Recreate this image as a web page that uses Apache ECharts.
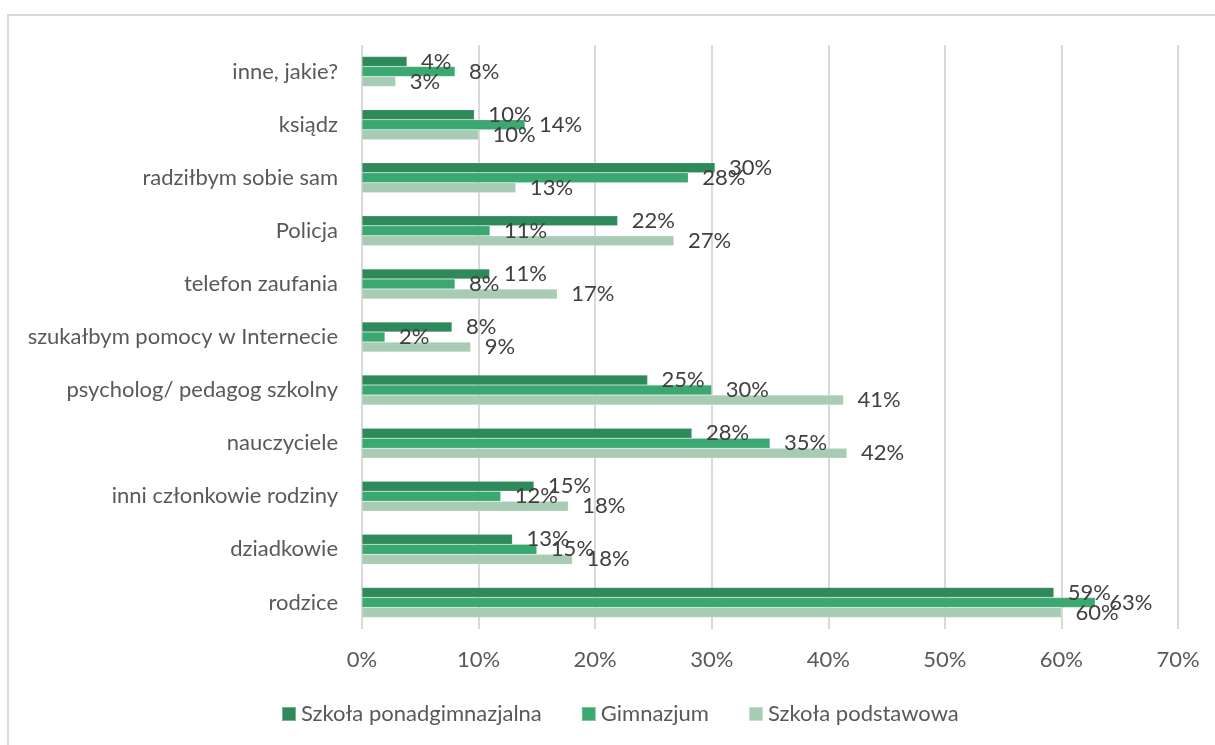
<!DOCTYPE html>
<html>
<head>
<meta charset="utf-8">
<script src="https://cdn.jsdelivr.net/npm/echarts@6/dist/echarts.min.js"></script>
<style>html,body{margin:0;padding:0;background:#fff;}#c{width:1215px;height:745px;}</style>
</head>
<body>
<div id="c"></div>
<script>
// categories from bottom to top
var categories = ['rodzice', 'dziadkowie', 'inni członkowie rodziny', 'nauczyciele', 'psycholog/ pedagog szkolny', 'szukałbym pomocy w Internecie', 'telefon zaufania', 'Policja', 'radziłbym sobie sam', 'ksiądz', 'inne, jakie?'];
var seriesNames = ['Szkoła ponadgimnazjalna', 'Gimnazjum', 'Szkoła podstawowa'];
var ponadgimnazjalna = [59.35, 12.9, 14.75, 28.3, 24.5, 7.72, 10.95, 21.93, 30.28, 9.64, 3.86];
var gimnazjum = [62.9, 15.0, 11.9, 35.0, 30.0, 1.97, 7.98, 10.98, 27.99, 13.98, 7.98];
var podstawowa = [60.0, 18.05, 17.7, 41.6, 41.3, 9.32, 16.75, 26.76, 13.2, 10.0, 2.89];
var xTicks = {min: 0, max: 70, interval: 10};
var colors = ['#2e8a5a', '#3aa870', '#a8ccb3'];

var FONT = 'Lato';
var FS = 22;
function mk(name, data, color) {
  return {
    name: name, type: 'bar', data: data, barWidth: 10, barGap: '0%',
    itemStyle: {color: color, borderColor: 'rgba(255,255,255,0.35)', borderWidth: 0.5},
    label: {show: true, position: 'right', distance: 14, color: '#404040', fontSize: FS, fontFamily: FONT,
      formatter: function (p) { return Math.round(p.value) + '%'; }},
    emphasis: {disabled: true}
  };
}
var chart = echarts.init(document.getElementById('c'));
chart.setOption({
  animation: false,
  graphic: [{type: 'rect', shape: {x: 8, y: 15, width: 1215, height: 745}, style: {fill: 'none', stroke: '#d9d9d9', lineWidth: 2}, silent: true, z: -1}],
  legend: {
    data: seriesNames, left: 281, top: 703, padding: 0, icon: 'rect', itemWidth: 14, itemHeight: 14, itemGap: 39,
    textStyle: {color: '#595959', fontSize: FS, fontFamily: FONT}
  },
  grid: {left: 362, right: 37, top: 45, bottom: 116, containLabel: false},
  xAxis: {
    type: 'value', min: xTicks.min, max: xTicks.max, interval: xTicks.interval,
    axisLine: {show: false}, axisTick: {show: false},
    axisLabel: {formatter: '{value}%', color: '#595959', fontSize: FS, fontFamily: FONT, margin: 20},
    splitLine: {show: true, lineStyle: {color: '#d9d9d9', width: 2}}
  },
  yAxis: {
    type: 'category', data: categories,
    axisLine: {show: false}, axisTick: {show: false},
    axisLabel: {color: '#595959', fontSize: FS, fontFamily: FONT, margin: 24}
  },
  series: [mk(seriesNames[0], ponadgimnazjalna, colors[0]), mk(seriesNames[1], gimnazjum, colors[1]), mk(seriesNames[2], podstawowa, colors[2])]
});
</script>
</body>
</html>
